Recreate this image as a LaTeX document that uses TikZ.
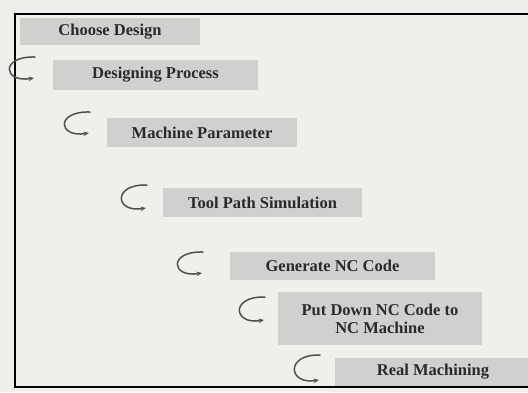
\documentclass[tikz,border=0pt]{standalone}
\usepackage{fontspec}
\setmainfont{Liberation Serif}
\usetikzlibrary{arrows.meta}
\definecolor{paper}{HTML}{EFEFEC}
\definecolor{boxgray}{HTML}{D0D0CE}
\definecolor{ink}{HTML}{2A2A2A}
\definecolor{arrgray}{HTML}{505050}
\tikzset{
  stepbox/.style={rectangle, fill=boxgray, draw=none, inner sep=0pt, align=center,
    text=ink, font=\fontsize{16.5}{18}\selectfont\bfseries},
  curvearrow/.style={draw=arrgray, line width=1.5pt, line cap=round,
    -{Stealth[length=5.5pt,width=4.5pt]}},
  frameline/.style={draw=black, line width=2pt}
}
\begin{document}
\begin{tikzpicture}[x=1pt,y=-1pt]
\useasboundingbox (0,0) rectangle (528,392);
\clip (0,0) rectangle (528,392);
\fill[paper] (0,0) rectangle (528,392);
% frame
\draw[frameline] (530,14) -- (15,14) -- (15,387) -- (530,387);
% boxes
\node[stepbox, minimum width=180pt, minimum height=27pt] (n1) at (110,31.5) {Choose Design};
\node[stepbox, minimum width=205pt, minimum height=30pt] (n2) at (155.5,75) {Designing Process};
\node[stepbox, minimum width=190pt, minimum height=29pt] (n3) at (202,132.5) {Machine Parameter};
\node[stepbox, minimum width=199pt, minimum height=29pt] (n4) at (262.5,202.5) {Tool Path Simulation};
\node[stepbox, minimum width=205pt, minimum height=28pt] (n5) at (332.5,266) {Generate NC Code};
\node[stepbox, minimum width=204pt, minimum height=53pt] (n6) at (380,318.5) {Put Down NC Code to\\NC Machine};
\node[stepbox, minimum width=196pt, minimum height=28pt] (n7) at (433,371.5) {Real Machining};
% curved arrows
\coordinate (a1s) at (35,57);  \coordinate (a1e) at (34,78);
\coordinate (a2s) at (90,112); \coordinate (a2e) at (89,133);
\coordinate (a3s) at (147,185); \coordinate (a3e) at (146,208);
\coordinate (a4s) at (203,252); \coordinate (a4e) at (202,273);
\coordinate (a5s) at (265,297); \coordinate (a5e) at (264,320);
\coordinate (a6s) at (320,355); \coordinate (a6e) at (319,380);
\foreach \i in {1,...,6}{
  \draw[curvearrow] (a\i s) .. controls ([xshift=-35pt,yshift=1pt]a\i s) and ([xshift=-31pt,yshift=-5pt]a\i e) .. (a\i e);
}
\end{tikzpicture}
\end{document}
